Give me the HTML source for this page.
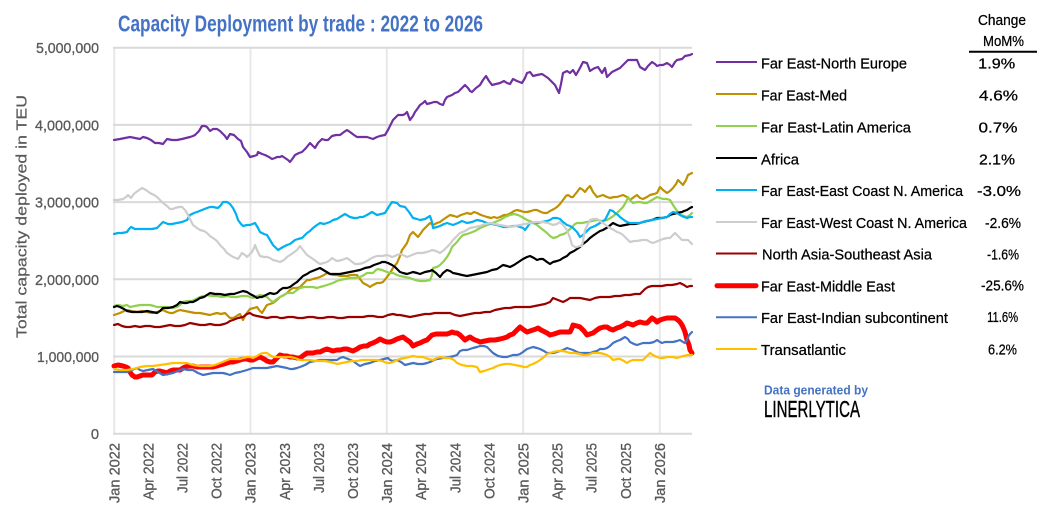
<!DOCTYPE html>
<html>
<head>
<meta charset="utf-8">
<style>
html,body{margin:0;padding:0;background:#fff;}
svg{display:block;}
text{font-family:"Liberation Sans Narrow","Liberation Sans",sans-serif;}
</style>
</head>
<body>
<svg width="1039" height="509" viewBox="0 0 1039 509" xmlns="http://www.w3.org/2000/svg">
<rect width="1039" height="509" fill="#fff"/>

<!-- Title -->
<text x="118" y="31.5" font-size="23" font-weight="bold" fill="#4472C4" textLength="365" lengthAdjust="spacingAndGlyphs">Capacity Deployment by trade : 2022 to 2026</text>

<!-- vertical gridlines -->
<g stroke="#e8e8e8" stroke-width="2">
<line x1="114.3" y1="47" x2="114.3" y2="434"/>
<line x1="250.5" y1="47" x2="250.5" y2="434"/>
<line x1="386.8" y1="47" x2="386.8" y2="434"/>
<line x1="523.2" y1="47" x2="523.2" y2="434"/>
<line x1="659.8" y1="47" x2="659.8" y2="434"/>
</g>
<!-- horizontal gridlines -->
<g stroke="#d9d9d9" stroke-width="2">
<line x1="113" y1="47.7" x2="692" y2="47.7"/>
<line x1="113" y1="124.9" x2="692" y2="124.9"/>
<line x1="113" y1="202.1" x2="692" y2="202.1"/>
<line x1="113" y1="279.3" x2="692" y2="279.3"/>
<line x1="113" y1="356.5" x2="692" y2="356.5"/>
<line x1="113" y1="433.7" x2="692" y2="433.7"/>
</g>

<!-- Y tick labels -->
<g font-size="14.7" fill="#595959" stroke="#595959" stroke-width="0.3" text-anchor="end">
<text x="99" y="53.2" textLength="63" lengthAdjust="spacingAndGlyphs">5,000,000</text>
<text x="99" y="130.4" textLength="64" lengthAdjust="spacingAndGlyphs">4,000,000</text>
<text x="99" y="207.6" textLength="64" lengthAdjust="spacingAndGlyphs">3,000,000</text>
<text x="99" y="284.8" textLength="64" lengthAdjust="spacingAndGlyphs">2,000,000</text>
<text x="99" y="362" textLength="62" lengthAdjust="spacingAndGlyphs">1,000,000</text>
<text x="99" y="439.2">0</text>
</g>

<!-- Y axis title -->
<text transform="translate(26.5,216.5) rotate(-90)" font-size="15" fill="#595959" stroke="#595959" stroke-width="0.2" text-anchor="middle" textLength="243" lengthAdjust="spacingAndGlyphs">Total capacity deployed in TEU</text>

<!-- X tick labels -->
<g font-size="14.5" fill="#595959" stroke="#595959" stroke-width="0.3" text-anchor="end">
<text transform="translate(119.3,443) rotate(-90)" textLength="60" lengthAdjust="spacingAndGlyphs">Jan 2022</text>
<text transform="translate(153.4,443) rotate(-90)" textLength="57" lengthAdjust="spacingAndGlyphs">Apr 2022</text>
<text transform="translate(187.5,443) rotate(-90)" textLength="50" lengthAdjust="spacingAndGlyphs">Jul 2022</text>
<text transform="translate(221.6,443) rotate(-90)" textLength="56" lengthAdjust="spacingAndGlyphs">Oct 2022</text>
<text transform="translate(255.7,443) rotate(-90)" textLength="60" lengthAdjust="spacingAndGlyphs">Jan 2023</text>
<text transform="translate(289.8,443) rotate(-90)" textLength="57" lengthAdjust="spacingAndGlyphs">Apr 2023</text>
<text transform="translate(323.9,443) rotate(-90)" textLength="50" lengthAdjust="spacingAndGlyphs">Jul 2023</text>
<text transform="translate(358,443) rotate(-90)" textLength="56" lengthAdjust="spacingAndGlyphs">Oct 2023</text>
<text transform="translate(392.1,443) rotate(-90)" textLength="60" lengthAdjust="spacingAndGlyphs">Jan 2024</text>
<text transform="translate(426.2,443) rotate(-90)" textLength="57" lengthAdjust="spacingAndGlyphs">Apr 2024</text>
<text transform="translate(460.3,443) rotate(-90)" textLength="50" lengthAdjust="spacingAndGlyphs">Jul 2024</text>
<text transform="translate(494.4,443) rotate(-90)" textLength="56" lengthAdjust="spacingAndGlyphs">Oct 2024</text>
<text transform="translate(528.5,443) rotate(-90)" textLength="60" lengthAdjust="spacingAndGlyphs">Jan 2025</text>
<text transform="translate(562.6,443) rotate(-90)" textLength="57" lengthAdjust="spacingAndGlyphs">Apr 2025</text>
<text transform="translate(596.7,443) rotate(-90)" textLength="50" lengthAdjust="spacingAndGlyphs">Jul 2025</text>
<text transform="translate(630.8,443) rotate(-90)" textLength="56" lengthAdjust="spacingAndGlyphs">Oct 2025</text>
<text transform="translate(664.9,443) rotate(-90)" textLength="60" lengthAdjust="spacingAndGlyphs">Jan 2026</text>
</g>

<!-- Series -->
<g fill="none" stroke-linejoin="round" stroke-linecap="round">
<!-- Far East-North Europe -->
<polyline stroke="#7030A0" stroke-width="2.2" points="114,140 120,139 125,138 130,137 135,138 140,139 143,137 147,138 151,140 155,143 159,143 163,144 167,139 172,140 177,140 182,139 186,138 190,137 193,136 195,135 199,131 202,126 205,126 207,127 210,131 213,129 217,129 220,131 222,133 225,136 227,139 230,134 234,135 238,139 241,141 243,147 247,152 250,157 254,156 257,155 258,152 262,154 265,155 269,157 272,159 275,158 277,157 280,157 282,156 285,158 288,160 290,162 293,158 295,155 299,153 302,152 306,148 310,143 313,146 315,148 318,143 322,139 325,140 328,140 332,136 336,135 340,135 344,132 347,130 350,132 354,135 357,137 362,137 367,137 370,138 373,139 377,137 380,136 385,135 388,130 390,126 393,120 396,117 398,115 403,115 405,114 407,112 410,120 413,116 415,112 418,108 420,105 423,103 425,101 427,104 431,103 434,102 437,102 440,104 443,105 445,100 447,97 452,95 455,93 458,92 461,89 465,85 468,88 470,91 472,92 476,88 480,85 483,80 486,76 489,81 492,85 496,84 500,83 504,81 507,83 510,84 513,79 517,81 522,83 525,78 527,73 530,72 533,76 537,75 542,74 545,76 548,78 552,82 555,85 557,89 559,93 561,84 563,73 567,71 570,73 573,70 576,75 580,68 583,62 587,63 590,71 593,69 595,68 598,67 602,73 605,68 607,77 610,74 612,72 616,70 620,68 624,64 628,60 633,60 637,60 640,67 645,70 648,66 652,62 655,64 657,66 660,65 663,65 667,63 670,65 672,67 675,62 677,60 682,59 685,56 690,55 692,54"/>
<!-- Far East-Med -->
<polyline stroke="#BF9000" stroke-width="2.2" points="114,315 117,314 120,313 124,311 127,310 131,311 137,312 142,311 147,312 152,313 157,312 160,311 163,310 167,312 170,313 173,313 177,311 180,310 185,311 190,312 195,313 200,313 205,314 210,315 213,314 217,313 221,314 225,313 228,316 230,318 233,318 235,317 238,315 240,314 243,320 246,314 250,309 254,308 257,307 260,311 262,313 265,308 267,305 270,304 273,303 277,300 280,297 284,295 287,293 290,290 293,288 297,288 300,287 304,283 307,280 310,280 313,279 317,278 320,277 324,275 327,273 330,274 333,275 337,275 340,276 344,276 347,276 351,275 354,275 357,275 360,279 363,283 367,285 370,287 373,285 377,283 380,283 383,282 387,277 390,273 393,268 397,263 400,256 402,250 405,246 407,243 410,235 413,232 416,235 418,237 421,233 423,230 426,227 430,223 433,225 437,223 440,222 444,219 447,217 450,215 454,216 457,217 461,215 464,214 467,213 471,214 474,212 477,213 481,215 484,216 487,217 491,218 494,217 497,218 500,217 504,215 507,215 511,213 514,211 517,210 521,211 524,212 527,212 531,211 534,210 537,210 541,212 544,213 547,213 550,211 554,209 557,207 560,204 563,200 566,196 568,195 571,197 573,197 577,192 580,188 583,190 585,192 588,188 590,186 593,192 597,197 600,196 603,195 607,197 610,198 614,197 617,197 620,196 623,195 627,197 630,200 634,197 637,195 640,198 643,199 647,197 650,195 654,194 657,193 660,187 663,190 667,193 670,191 673,188 676,184 678,180 681,183 683,185 686,180 688,175 690,174 692,173"/>
<!-- Far East-Latin America -->
<polyline stroke="#92D050" stroke-width="2.2" points="114,306 118,305 123,306 127,305 130,307 135,306 140,305 145,305 150,305 154,306 157,307 162,307 167,307 172,308 177,307 180,305 183,302 187,301 192,301 196,299 200,297 204,296 207,295 212,296 217,296 222,297 227,296 232,297 237,297 242,296 247,296 250,297 253,298 257,296 260,295 264,296 267,297 270,300 273,302 277,299 280,297 284,295 287,293 290,293 293,293 297,290 300,288 304,287 307,287 310,287 313,287 317,288 320,287 324,286 327,285 330,284 333,283 337,281 340,280 345,279 350,278 355,278 360,277 364,275 367,273 370,273 373,273 376,270 378,269 382,270 387,272 390,273 393,273 397,275 400,276 405,277 410,278 415,280 420,281 425,281 430,280 432,275 433,268 437,267 440,265 444,261 447,257 450,252 452,247 455,244 457,242 460,238 463,235 467,234 470,233 475,231 480,228 485,226 490,224 495,222 500,220 505,217 510,215 514,214 518,215 522,217 527,220 532,222 537,225 542,229 547,233 550,236 553,238 557,237 560,235 564,234 567,232 570,229 572,227 575,224 577,223 582,223 587,222 592,221 597,220 602,221 607,220 612,217 617,213 620,210 623,207 626,202 628,197 630,200 633,203 637,202 640,202 644,203 647,203 652,200 657,197 660,198 663,199 667,199 670,200 673,205 675,208 678,212 680,215 684,216 687,217 690,215 692,213"/>
<!-- Africa -->
<polyline stroke="#000000" stroke-width="2.2" points="114,307 117,306 120,307 124,309 127,311 132,312 137,312 142,312 147,311 152,312 157,313 160,311 163,308 168,308 173,307 177,305 180,302 184,303 187,303 190,302 193,302 197,300 200,298 204,297 207,295 210,293 215,294 220,294 225,295 230,294 234,294 237,293 240,292 243,291 247,292 250,294 254,296 257,298 260,297 262,297 266,295 270,293 274,294 277,293 280,290 283,288 287,288 290,287 294,284 297,282 300,279 303,276 307,274 310,272 315,270 320,268 325,271 330,274 335,274 340,274 345,273 350,272 355,271 360,270 365,268 370,267 374,265 377,264 380,263 382,262 385,262 388,263 392,265 395,267 398,270 400,272 403,273 407,274 410,273 413,272 417,273 420,274 425,272 430,271 432,270 436,273 440,277 443,273 447,270 450,271 453,273 458,274 462,275 467,276 472,275 477,274 482,273 487,272 492,270 497,269 500,267 503,265 507,266 510,267 514,265 517,263 520,261 523,259 527,257 530,256 534,258 537,260 540,259 543,259 547,262 550,264 553,262 557,261 560,260 563,258 567,256 570,253 574,251 577,249 580,247 583,244 587,241 590,238 594,235 597,233 600,231 603,230 608,227 613,223 617,225 620,226 625,225 630,224 635,224 640,223 643,222 647,221 652,220 657,218 662,218 667,217 670,215 673,214 677,213 682,212 684,211 687,210 690,208 692,207"/>
<!-- Far East-East Coast N. America -->
<polyline stroke="#00B0F0" stroke-width="2.2" points="114,234 118,233 122,233 127,232 129,229 131,227 135,229 140,229 147,229 152,229 157,228 160,225 163,222 168,224 172,224 177,223 182,222 187,220 190,215 194,213 197,212 202,210 207,208 210,207 213,207 218,208 221,205 223,202 227,202 230,204 233,208 236,214 238,220 241,224 243,226 247,225 250,225 255,223 258,228 260,232 264,234 267,235 270,240 273,245 276,248 278,250 283,247 287,245 290,244 295,240 298,239 302,238 305,235 307,233 310,231 313,228 317,225 320,223 324,224 327,223 330,222 333,220 337,219 340,217 345,214 350,217 354,218 357,218 360,217 363,217 367,215 372,212 377,215 381,214 385,213 388,208 392,202 397,203 400,206 405,207 409,212 413,218 417,219 420,220 425,219 430,216 432,222 433,228 437,227 440,226 444,224 447,223 450,224 453,225 458,223 462,221 467,223 472,222 477,220 482,221 487,223 492,224 497,225 500,226 503,227 508,227 513,226 517,226 520,227 523,228 525,230 528,226 530,223 534,223 537,223 542,222 547,221 550,220 553,218 557,218 560,219 563,222 567,225 570,226 573,228 577,232 580,237 583,235 587,231 590,228 595,226 600,223 603,221 605,220 608,214 610,210 613,211 615,213 618,215 620,217 624,220 627,222 630,223 635,223 640,223 643,222 647,221 652,220 657,219 662,218 667,217 670,214 673,212 677,213 680,215 684,217 687,218 690,217 692,217"/>
<!-- Far East-West Coast N. America -->
<polyline stroke="#CDCDCD" stroke-width="2.2" points="114,200 118,200 123,199 126,197 128,195 131,198 133,195 135,193 139,190 142,188 146,190 150,193 154,195 157,197 160,200 163,203 167,206 170,209 173,209 175,208 179,207 182,207 185,210 187,213 190,219 193,225 197,228 200,230 204,231 207,233 210,236 213,238 217,241 220,245 224,249 227,253 230,255 233,257 236,258 238,259 240,256 242,253 245,255 247,257 250,254 252,252 254,248 255,245 257,250 260,256 264,257 267,257 270,258 273,260 277,261 280,262 284,260 287,257 290,255 293,253 297,250 300,246 303,250 307,255 310,257 313,259 317,262 320,264 324,263 327,262 330,260 332,258 335,260 337,261 342,260 347,258 351,261 355,264 359,264 363,263 367,261 370,259 374,257 377,256 382,256 387,255 390,256 392,257 395,256 397,255 400,254 403,255 407,257 412,255 417,253 422,253 427,252 430,251 432,250 436,251 440,253 444,250 447,247 450,244 453,240 457,236 460,233 465,231 470,228 475,227 480,226 485,224 490,223 495,224 500,225 505,226 510,227 515,226 520,225 525,224 530,223 537,222 543,222 548,223 553,225 557,224 560,222 563,225 567,230 570,238 572,245 575,247 577,247 580,246 582,246 585,230 588,224 590,220 594,219 597,219 600,221 603,223 607,226 610,228 614,230 617,232 620,233 623,235 627,239 630,242 634,241 637,241 642,240 647,240 650,242 653,243 658,241 663,239 667,238 670,238 673,235 675,233 678,236 682,240 685,240 688,240 690,242 692,244"/>
<!-- North Asia-Southeast Asia -->
<polyline stroke="#990000" stroke-width="2.2" points="114,325 118,324 122,326 126,327 130,327 135,326 140,327 145,326 150,326 155,327 160,327 165,326 170,325 175,326 180,326 185,325 190,323 195,324 200,325 205,325 210,324 215,325 220,325 224,324 227,323 230,321 233,320 238,318 243,317 247,314 250,313 253,315 257,316 262,317 267,318 272,317 277,317 280,318 283,318 288,317 293,317 298,318 303,318 308,317 313,317 318,318 323,318 328,317 333,317 338,318 343,318 348,317 353,317 358,317 363,317 368,316 373,316 378,317 383,317 388,315 393,314 397,315 400,315 405,316 410,317 415,316 420,315 425,314 430,314 435,313 440,313 445,313 450,313 455,315 460,316 465,315 470,314 475,313 480,313 485,312 490,312 495,310 500,309 505,308 510,308 515,307 520,307 525,307 530,307 535,306 540,305 545,304 550,302 553,298 558,300 563,302 567,300 570,298 575,298 580,298 585,299 590,300 595,298 600,297 605,297 610,297 615,296 620,296 625,295 630,295 635,294 640,294 643,291 645,289 648,287 652,286 657,286 662,286 667,285 672,285 677,284 680,283 684,285 687,287 690,286 692,286"/>
<!-- Far East-Middle East -->
<polyline stroke="#FF0000" stroke-width="5" points="114,366 118,365 123,366 126,367 128,368 130,372 132,375 135,377 137,377 140,376 143,375 148,375 152,375 155,372 158,371 160,371 164,372 167,373 170,371 173,370 177,370 180,370 183,368 185,367 189,366 193,366 197,367 200,367 204,367 207,367 210,367 213,367 217,366 220,365 224,364 227,363 230,362 233,362 237,361 240,360 244,359 247,359 250,360 253,360 257,358 260,357 264,359 267,361 270,362 273,362 277,358 280,355 284,356 287,356 290,357 293,357 297,358 300,358 304,355 307,353 310,353 313,353 317,352 320,352 324,350 327,349 330,350 333,351 337,350 340,350 344,349 347,349 350,350 353,351 357,349 360,347 364,346 367,346 370,344 373,343 377,341 380,339 384,341 387,342 390,342 393,341 397,339 400,338 403,337 407,340 410,342 413,346 417,344 420,343 424,341 427,340 430,337 432,335 436,334 440,334 444,334 447,334 450,333 452,332 455,333 457,333 460,335 463,338 465,340 468,338 470,337 473,339 475,340 478,341 480,342 485,341 490,340 495,340 500,339 504,338 507,337 510,335 513,334 517,330 520,327 524,330 527,332 530,331 533,330 536,329 538,328 541,330 543,331 547,333 550,335 554,334 557,333 560,332 563,332 567,332 570,332 572,328 573,325 577,326 580,327 584,331 587,335 590,334 593,333 597,330 600,328 604,327 607,327 610,329 613,330 617,328 620,327 624,325 627,323 630,324 633,325 637,323 640,322 644,323 647,323 650,320 652,318 655,320 657,322 660,320 663,319 667,318 670,318 673,318 675,318 678,320 680,322 682,325 683,327 685,332 687,340 689,345 690,350 692,353"/>
<!-- Far East-Indian subcontinent -->
<polyline stroke="#4472C4" stroke-width="2.2" points="114,372 120,372 127,372 132,370 137,368 140,370 143,371 148,370 153,369 158,372 163,375 168,374 173,373 178,371 183,369 188,370 193,370 198,373 203,375 208,374 213,373 218,373 223,373 227,374 230,375 235,373 240,372 247,370 253,368 260,368 267,368 272,367 277,366 282,367 287,368 290,369 293,369 297,368 300,367 305,365 310,362 315,361 320,360 325,360 330,360 335,360 337,360 340,358 343,357 348,359 353,361 357,364 360,366 365,364 370,363 375,361 380,360 384,359 388,358 390,360 393,361 397,360 401,362 405,365 409,364 413,363 418,364 423,364 427,363 430,362 434,360 437,359 443,358 450,357 454,356 457,355 460,351 463,350 467,350 470,349 473,348 477,347 480,346 484,346 487,347 490,350 493,353 498,356 503,357 507,357 510,356 513,355 517,355 520,354 523,352 527,349 530,348 533,347 537,348 540,349 544,351 547,353 550,353 553,353 557,352 560,351 563,350 567,348 570,349 573,350 577,352 580,353 584,353 587,353 590,353 593,352 597,351 600,349 604,349 607,348 610,346 613,343 617,341 620,340 625,337 628,339 630,342 634,344 637,345 640,344 643,343 647,343 650,343 654,342 657,340 660,342 662,343 665,342 667,342 670,342 673,342 677,341 680,340 683,342 685,343 687,340 688,337 690,334 692,332"/>
<!-- Transatlantic -->
<polyline stroke="#FFC000" stroke-width="2.2" points="114,369 120,370 127,370 133,369 140,367 147,366 153,366 160,365 167,364 173,363 180,363 184,363 187,363 193,365 200,366 205,366 210,366 215,365 220,363 225,361 230,359 235,359 240,359 243,358 247,357 250,357 253,358 257,356 260,354 263,353 267,353 270,355 273,357 278,357 283,357 287,357 290,357 295,358 300,360 305,360 310,360 315,361 320,361 325,361 330,362 334,363 337,364 342,363 347,362 352,361 357,361 362,360 367,360 372,360 377,360 382,361 387,363 390,363 393,362 397,360 400,359 405,358 409,357 413,356 418,357 423,357 428,359 433,360 437,358 440,357 445,358 450,358 454,360 457,363 462,365 467,366 472,366 477,367 480,372 484,371 487,370 490,369 493,368 497,366 500,365 505,364 510,364 515,365 520,366 524,367 527,367 530,365 533,364 537,362 540,360 544,357 547,354 550,353 553,352 558,351 563,351 567,352 570,353 575,353 580,354 584,355 587,355 590,354 593,353 597,353 600,353 604,354 607,355 610,357 613,360 617,359 620,359 624,361 627,363 630,361 633,360 638,360 643,360 647,356 650,353 653,355 657,357 660,358 663,358 667,357 670,357 673,357 677,358 680,357 683,356 688,355 692,355"/>
</g>

<!-- Legend header -->
<g font-size="14.5" fill="#000" stroke="#000" stroke-width="0.25" text-anchor="middle">
<text x="1002" y="25" textLength="48" lengthAdjust="spacingAndGlyphs">Change</text>
<text x="1003.5" y="46" textLength="41" lengthAdjust="spacingAndGlyphs">MoM%</text>
</g>
<line x1="969" y1="51.7" x2="1037" y2="51.7" stroke="#000" stroke-width="2"/>

<!-- Legend lines -->
<g stroke-width="2" stroke-linecap="butt">
<line x1="716" y1="62" x2="757" y2="62" stroke="#7030A0"/>
<line x1="716" y1="94" x2="757" y2="94" stroke="#BF9000"/>
<line x1="716" y1="126" x2="757" y2="126" stroke="#92D050"/>
<line x1="716" y1="158" x2="757" y2="158" stroke="#000000"/>
<line x1="716" y1="190" x2="757" y2="190" stroke="#00B0F0"/>
<line x1="716" y1="222" x2="757" y2="222" stroke="#CDCDCD"/>
<line x1="716" y1="253.5" x2="757" y2="253.5" stroke="#990000"/>
<line x1="717" y1="285.7" x2="756" y2="285.7" stroke="#FF0000" stroke-width="5" stroke-linecap="round"/>
<line x1="716" y1="317.3" x2="757" y2="317.3" stroke="#4472C4"/>
<line x1="716" y1="349" x2="757" y2="349" stroke="#FFC000"/>
</g>

<!-- Legend labels -->
<g font-size="14.5" fill="#000" stroke="#000" stroke-width="0.25">
<text x="761" y="68.5" textLength="146" lengthAdjust="spacingAndGlyphs">Far East-North Europe</text>
<text x="761" y="100.7" textLength="86" lengthAdjust="spacingAndGlyphs">Far East-Med</text>
<text x="761" y="132.5" textLength="150" lengthAdjust="spacingAndGlyphs">Far East-Latin America</text>
<text x="761" y="164.5" textLength="38" lengthAdjust="spacingAndGlyphs">Africa</text>
<text x="761" y="196.2" textLength="202" lengthAdjust="spacingAndGlyphs">Far East-East Coast N. America</text>
<text x="761" y="228" textLength="206" lengthAdjust="spacingAndGlyphs">Far East-West Coast N. America</text>
<text x="762" y="259.5" textLength="170" lengthAdjust="spacingAndGlyphs">North Asia-Southeast Asia</text>
<text x="761" y="291.5" textLength="134" lengthAdjust="spacingAndGlyphs">Far East-Middle East</text>
<text x="761" y="323" textLength="187" lengthAdjust="spacingAndGlyphs">Far East-Indian subcontinent</text>
<text x="761" y="355" textLength="85" lengthAdjust="spacingAndGlyphs">Transatlantic</text>
</g>

<!-- Percent values -->
<g font-size="14.5" fill="#000" stroke="#000" stroke-width="0.25" text-anchor="middle">
<text x="996.7" y="68.5" textLength="37" lengthAdjust="spacingAndGlyphs">1.9%</text>
<text x="998.5" y="100.7" textLength="39" lengthAdjust="spacingAndGlyphs">4.6%</text>
<text x="998" y="132.5" textLength="39" lengthAdjust="spacingAndGlyphs">0.7%</text>
<text x="997" y="164.5" textLength="36" lengthAdjust="spacingAndGlyphs">2.1%</text>
<text x="999" y="196.2" textLength="44" lengthAdjust="spacingAndGlyphs">-3.0%</text>
<text x="1003" y="228" textLength="36" lengthAdjust="spacingAndGlyphs">-2.6%</text>
<text x="1003" y="259.5" textLength="32" lengthAdjust="spacingAndGlyphs">-1.6%</text>
<text x="1002.5" y="290.5" textLength="43" lengthAdjust="spacingAndGlyphs">-25.6%</text>
<text x="1002.6" y="322" textLength="31" lengthAdjust="spacingAndGlyphs">11.6%</text>
<text x="1002.5" y="354.5" textLength="29" lengthAdjust="spacingAndGlyphs">6.2%</text>
</g>

<!-- Branding -->
<text x="764" y="394.5" font-size="13" font-weight="bold" fill="#4472C4" textLength="104" lengthAdjust="spacingAndGlyphs">Data generated by</text>
<text x="764" y="417" font-size="23" fill="#000" stroke="#000" stroke-width="0.4" textLength="96" lengthAdjust="spacingAndGlyphs">LINERLYTICA</text>
</svg>
</body>
</html>
